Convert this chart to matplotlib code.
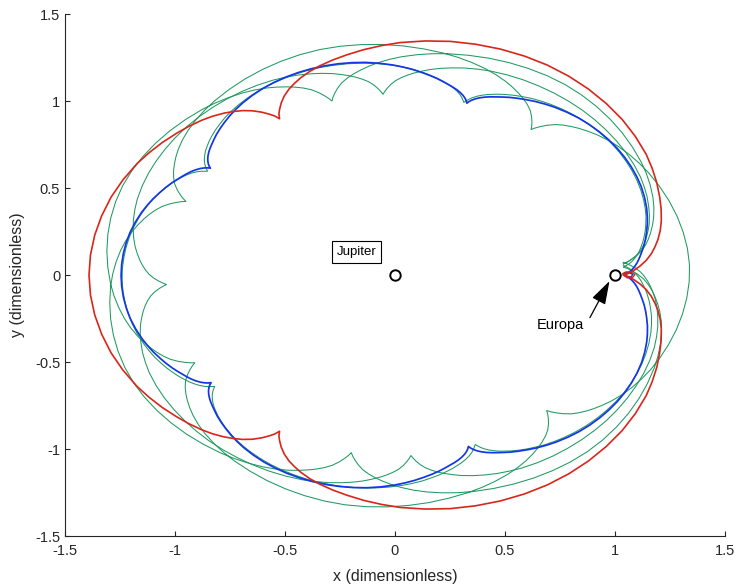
import numpy as np
import matplotlib.pyplot as plt

plt.rcParams['font.family'] = ['Liberation Sans', 'DejaVu Sans']
plt.rcParams['axes.unicode_minus'] = False

# primaries in the rotating frame (distance unit = Jupiter-Europa)
body_x = [0.0, 1.0]
body_y = [0.0, 0.0]

ticks = [-1.5, -1, -0.5, 0, 0.5, 1, 1.5]

# every orbit is a chain of arcs between periapses (cusps in the rotating frame);
# an arc is described by its radius at fractions of the way from one periapsis to the next
arc_frac = [0, .005, .012, .022, .035, .05, .065, .08, .10, .12, .145, .17, .20, .23,
            .26, .30, .34, .38, .42, .46, .50, .54, .58, .62, .66, .70, .74, .77, .80,
            .83, .855, .88, .90, .92, .935, .95, .965, .978, .988, .995, 1.0]

# red resonant orbit (periapsis angles in deg, Europa flyby at 0)
red_peri = [0, 120.3, 239.7, 360]
red_radius = [1.04, 1.065, 1.087, 1.115, 1.145, 1.172, 1.193, 1.212, 1.233, 1.25, 1.268,
              1.284, 1.303, 1.32, 1.336, 1.352, 1.366, 1.376, 1.384, 1.389, 1.391, 1.389,
              1.384, 1.376, 1.366, 1.352, 1.336, 1.32, 1.303, 1.284, 1.268, 1.25, 1.233,
              1.212, 1.193, 1.172, 1.145, 1.115, 1.087, 1.065, 1.04]
red_loop_x = [1.04, 1.055, 1.08, 1.09, 1.075, 1.05, 1.035, 1.04]
red_loop_y = [0.0, -0.016, -0.014, 0.002, 0.017, 0.018, 0.008, 0.0]

# blue resonant orbit
blue_peri = [0, 71.7, 143.8, 216.5, 288.7, 360]
blue_radius = [1.04, 1.052, 1.064, 1.077, 1.09, 1.102, 1.112, 1.121, 1.133, 1.145, 1.158,
               1.17, 1.184, 1.196, 1.207, 1.219, 1.229, 1.236, 1.241, 1.244, 1.245, 1.244,
               1.241, 1.236, 1.229, 1.219, 1.207, 1.196, 1.184, 1.17, 1.158, 1.145, 1.133,
               1.121, 1.112, 1.102, 1.09, 1.077, 1.064, 1.052, 1.04]
blue_loop_x = [1.04, 1.055, 1.075, 1.08, 1.065, 1.045, 1.04]
blue_loop_y = [0.0, -0.012, -0.01, 0.004, 0.014, 0.012, 0.0]

# green transfer, three resonant legs
legA_peri = [2.5, -101, -204, -306.5, -408.5, -511, -614, -716.5]
legA_radius = [1.04, 1.058, 1.078, 1.103, 1.13, 1.152, 1.17, 1.186, 1.205, 1.222, 1.24,
               1.255, 1.27, 1.283, 1.294, 1.306, 1.317, 1.326, 1.333, 1.338, 1.34, 1.338,
               1.333, 1.326, 1.317, 1.306, 1.294, 1.283, 1.27, 1.255, 1.24, 1.222, 1.205,
               1.186, 1.17, 1.152, 1.13, 1.103, 1.078, 1.058, 1.04]

legB_peri = [4, -86, -177, -267, -356.5]
legB_radius = [1.04, 1.055, 1.073, 1.095, 1.117, 1.135, 1.15, 1.163, 1.178, 1.192, 1.206,
               1.218, 1.231, 1.241, 1.25, 1.258, 1.264, 1.268, 1.271, 1.273, 1.274, 1.273,
               1.271, 1.268, 1.264, 1.258, 1.25, 1.241, 1.231, 1.218, 1.206, 1.192, 1.178,
               1.163, 1.15, 1.135, 1.117, 1.095, 1.073, 1.055, 1.04]

legC_peri = [3, -69.5, -142, -215, -287.5, -357.5]
legC_radius = [1.04, 1.05, 1.063, 1.078, 1.093, 1.107, 1.119, 1.129, 1.142, 1.153, 1.166,
               1.177, 1.19, 1.2, 1.209, 1.219, 1.227, 1.233, 1.237, 1.24, 1.241, 1.24,
               1.237, 1.233, 1.227, 1.219, 1.209, 1.2, 1.19, 1.177, 1.166, 1.153, 1.142,
               1.129, 1.119, 1.107, 1.093, 1.078, 1.063, 1.05, 1.04]

green = '#1f9a62'
blue = '#1436e8'
red = '#d8261a'


def orbit_path(peri_deg, radius):
    # chain of arcs between successive periapses
    frac = np.asarray(arc_frac)
    r = np.asarray(radius)
    xs, ys = [], []
    for a0, a1 in zip(peri_deg[:-1], peri_deg[1:]):
        th = np.radians(a0 + (a1 - a0) * frac)
        xs.extend(r * np.cos(th))
        ys.extend(r * np.sin(th))
    return xs, ys


fig = plt.figure(figsize=(7.37, 5.86), dpi=100)
ax = fig.add_axes([0.0882, 0.0853, 0.8955, 0.8908])

for peri, rad in [(legA_peri, legA_radius), (legB_peri, legB_radius),
                  (legC_peri, legC_radius)]:
    gx, gy = orbit_path(peri, rad)
    ax.plot(gx, gy, color=green, lw=0.75, zorder=1)

bx, by = orbit_path(blue_peri, blue_radius)
ax.plot(bx, by, color=blue, lw=1.25, zorder=2)
ax.plot(blue_loop_x, blue_loop_y, color=blue, lw=1.0, zorder=2)

rx, ry = orbit_path(red_peri, red_radius)
ax.plot(rx, ry, color=red, lw=1.2, zorder=3)
ax.plot(red_loop_x, red_loop_y, color=red, lw=1.0, zorder=3)

ax.plot(body_x, body_y, 'o', ms=7.5, mfc='white', mec='black', mew=1.4, zorder=5)

ax.text(-0.175, 0.132, 'Jupiter', ha='center', va='center', fontsize=9.5,
        bbox=dict(boxstyle='square,pad=0.35', fc='white', ec='black', lw=0.8), zorder=6)
ax.annotate('', xy=(0.975, -0.035), xytext=(0.886, -0.245),
            arrowprops=dict(arrowstyle='-|>,head_length=1.2,head_width=0.38',
                            mutation_scale=12, color='black', lw=0.9,
                            shrinkA=0, shrinkB=0), zorder=6)
ax.text(0.75, -0.29, 'Europa', ha='center', va='center', fontsize=10.5, zorder=6)

ax.set_xlim(-1.5, 1.5)
ax.set_ylim(-1.5, 1.5)
ax.set_xticks(ticks)
ax.set_yticks(ticks)
ax.set_xticklabels(['%g' % t for t in ticks])
ax.set_yticklabels(['%g' % t for t in ticks])
ax.tick_params(direction='in', length=3.5, width=0.8, labelsize=10.5, colors='0.15')
ax.tick_params(axis='x', pad=6)
for side in ['top', 'right']:
    ax.spines[side].set_visible(False)
for side in ['left', 'bottom']:
    ax.spines[side].set_color('0.15')
    ax.spines[side].set_linewidth(0.8)

ax.set_xlabel('x (dimensionless)', fontsize=11.5, color='0.15', labelpad=8)
ax.set_ylabel('y (dimensionless)', fontsize=11.5, color='0.15', labelpad=7)

fig.savefig('out.png', dpi=100)
